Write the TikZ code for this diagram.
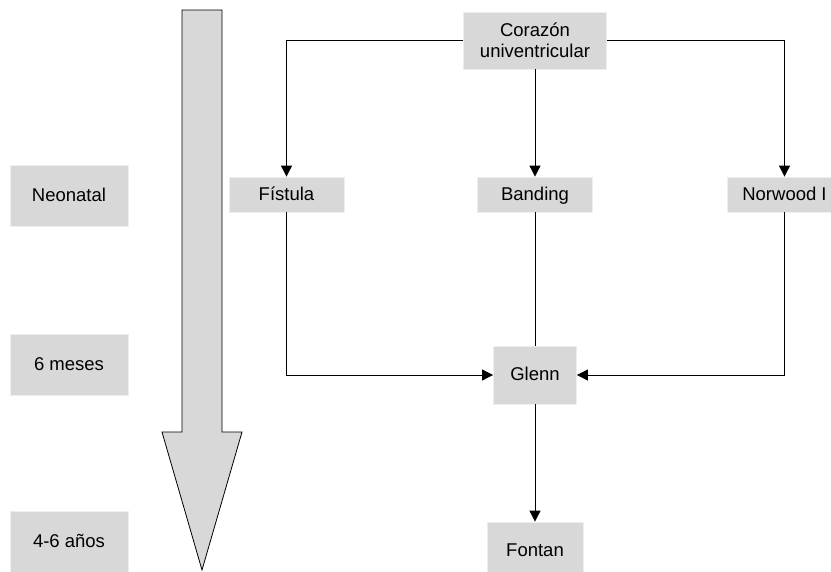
\documentclass[tikz,border=0pt]{standalone}
\usepackage{fontspec}
\setmainfont{Liberation Sans}
\usetikzlibrary{positioning}
\usetikzlibrary{calc}
\usetikzlibrary{arrows.meta}
\definecolor{boxfill}{RGB}{216,216,216}
\definecolor{boxedge}{RGB}{238,238,238}
\colorlet{border}{black}
\newcommand\shaftwidth{40}
\newcommand\headwidth{80}
\newcommand\headlength{138}

\begin{document}
\begin{tikzpicture}[x=1pt, y=-1pt, font=\fontsize{18.5}{21}\selectfont]
    \useasboundingbox (0, 0) rectangle (831, 571);

    \tikzset{
        stage box/.style={
            draw=boxedge, fill=boxfill, rectangle,
            line width=0.8pt,
            inner sep=0pt, align=center,
            minimum height=#1,
        },
        one line/.style={
            text height=13.5pt, text depth=2pt,
        },
        link/.style={
            draw=border, line width=0.8pt,
            -{Triangle[length=11pt, width=11pt]},
        },
        plain link/.style={
            draw=border, line width=0.8pt,
        },
    }

    % Time arrow
    \coordinate (time-top) at (202, 10);
    \coordinate (time-tip) at (202, 570);
    \coordinate (time-neck) at ($(time-tip)+(0, -\headlength)$);

    \draw[border, fill=boxfill, line width=0.8pt]
        ($(time-top)+(-.5 * \shaftwidth, 0)$)
        -- ($(time-top)+(.5 * \shaftwidth, 0)$)
        -- ($(time-neck)+(.5 * \shaftwidth, 0)$)
        -- ($(time-neck)+(.5 * \headwidth, 0)$)
        -- (time-tip)
        -- ($(time-neck)+(-.5 * \headwidth, 0)$)
        -- ($(time-neck)+(-.5 * \shaftwidth, 0)$)
        -- cycle;

    % Ages
    \node[stage box=61pt, one line, minimum width=118pt] (neonatal) at (69, 195.5) {Neonatal};
    \node[stage box=61pt, one line, minimum width=118pt] (meses) at (69, 364.5) {6 meses};
    \node[stage box=61pt, one line, minimum width=118pt] (anos) at (69, 541.5) {4-6 años};

    % Procedures
    \node[stage box=57pt, minimum width=143pt] (corazon) at (535, 40.5)
        {Corazón\\univentricular};
    \node[stage box=35pt, one line, minimum width=115pt] (fistula) at (286.5, 194.5) {Fístula};
    \node[stage box=35pt, one line, minimum width=115pt] (banding) at (535, 194.5) {Banding};
    \node[stage box=35pt, one line, minimum width=115pt] (norwood) at (784.5, 194.5) {Norwood I};
    \node[stage box=58pt, one line, minimum width=83pt] (glenn) at (535, 375) {Glenn};
    \node[stage box=58pt, one line, minimum width=96pt] (fontan) at (535, 551) {Fontan};

    % Connectors
    \draw[link] (corazon.west) -| (fistula.north);
    \draw[link] (corazon.east) -| (norwood.north);
    \draw[link] (corazon.south) -- (banding.north);
    \draw[plain link] (banding.south) -- (glenn.north);
    \draw[link] (fistula.south) |- (glenn.west);
    \draw[link] (norwood.south) |- (glenn.east);
    \draw[link] (glenn.south) -- (fontan.north);
\end{tikzpicture}
\end{document}
